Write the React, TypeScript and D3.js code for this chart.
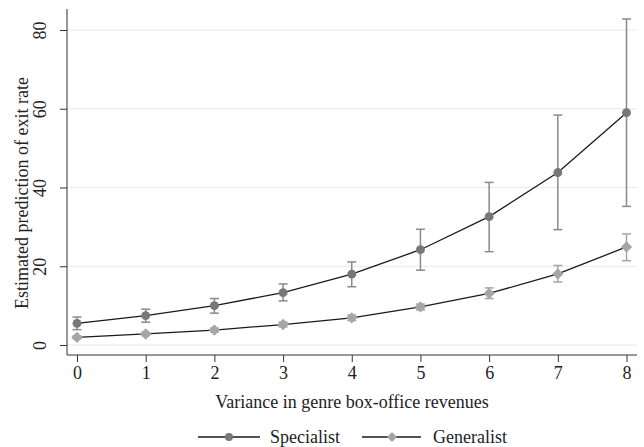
import React, { useRef, useEffect } from 'react';
import * as d3 from 'd3';

const xValues = [0, 1, 2, 3, 4, 5, 6, 7, 8];
const specialistMean = [5.5, 7.45, 10.0, 13.3, 18.0, 24.2, 32.6, 43.8, 59.0];
const specialistLow = [3.9, 5.8, 8.1, 11.2, 14.8, 19.0, 23.7, 29.3, 35.2];
const specialistHigh = [7.1, 9.1, 11.8, 15.5, 21.1, 29.4, 41.3, 58.4, 82.8];
const generalistMean = [1.96, 2.8, 3.8, 5.2, 6.9, 9.66, 13.1, 18.06, 24.9];
const generalistLow = [1.6, 2.4, 3.3, 4.6, 6.2, 8.9, 11.8, 16.0, 21.4];
const generalistHigh = [2.3, 3.2, 4.3, 5.8, 7.6, 10.4, 14.5, 20.2, 28.2];
const yTicks = [0, 20, 40, 60, 80];

const FONT = '"Liberation Serif", "Times New Roman", serif';

export default function App() {
  const svgRef = useRef<SVGSVGElement>(null);

  useEffect(() => {
    if (!svgRef.current) return;
    const svg = d3.select(svgRef.current);
    svg.selectAll('*').remove();

    const left = 67;
    const right = 637;
    const top = 9;
    const bottom = 355;

    const x = d3.scaleLinear().domain([0, 8]).range([77, 626.5]);
    const y = d3.scaleLinear().domain([0, 80]).range([345, 30]);

    // gridlines
    svg
      .append('g')
      .selectAll('line')
      .data(yTicks)
      .enter()
      .append('line')
      .attr('x1', left)
      .attr('x2', right)
      .attr('y1', (d) => y(d))
      .attr('y2', (d) => y(d))
      .attr('stroke', '#e8e8e8')
      .attr('stroke-width', 1);

    // axes
    const yAxis = svg
      .append('g')
      .attr('transform', `translate(${left},0)`)
      .call(d3.axisLeft(y).tickValues(yTicks).tickSize(7).tickPadding(0).tickFormat(d3.format('d')));
    yAxis.select('.domain').attr('d', `M0,${top}V${bottom}`).attr('stroke', '#333');
    yAxis.selectAll('.tick line').attr('stroke', '#333');
    yAxis
      .selectAll('.tick text')
      .attr('transform', 'rotate(-90)')
      .attr('x', 0)
      .attr('y', -27)
      .attr('dy', '0.35em')
      .attr('text-anchor', 'middle')
      .attr('fill', '#222')
      .style('font-family', FONT)
      .style('font-size', '18px');

    const xAxis = svg
      .append('g')
      .attr('transform', `translate(0,${bottom})`)
      .call(d3.axisBottom(x).tickValues(xValues).tickSize(7).tickPadding(4).tickFormat(d3.format('d')));
    xAxis.select('.domain').attr('d', `M${left},0H${right}`).attr('stroke', '#333');
    xAxis.selectAll('.tick line').attr('stroke', '#333');
    xAxis
      .selectAll('.tick text')
      .attr('fill', '#222')
      .style('font-family', FONT)
      .style('font-size', '18px');

    // titles
    svg
      .append('text')
      .attr('x', 352)
      .attr('y', 408)
      .attr('text-anchor', 'middle')
      .attr('fill', '#222')
      .style('font-family', FONT)
      .style('font-size', '18px')
      .text('Variance in genre box-office revenues');

    svg
      .append('text')
      .attr('transform', `translate(28,193) rotate(-90)`)
      .attr('text-anchor', 'middle')
      .attr('fill', '#222')
      .style('font-family', FONT)
      .style('font-size', '18px')
      .text('Estimated prediction of exit rate');

    const series = [
      { mean: generalistMean, low: generalistLow, high: generalistHigh, color: '#a6a6a6', err: '#a6a6a6', shape: 'diamond' },
      { mean: specialistMean, low: specialistLow, high: specialistHigh, color: '#777777', err: '#8a8a8a', shape: 'circle' },
    ];

    const line = d3
      .line<number>()
      .x((_, i) => x(xValues[i]))
      .y((d) => y(d));

    series.forEach((s) => {
      const g = svg.append('g');
      // error bars
      xValues.forEach((xv, i) => {
        const cx = x(xv);
        g.append('line')
          .attr('x1', cx).attr('x2', cx)
          .attr('y1', y(s.low[i])).attr('y2', y(s.high[i]))
          .attr('stroke', s.err).attr('stroke-width', 1.5);
        [s.low[i], s.high[i]].forEach((v) => {
          g.append('line')
            .attr('x1', cx - 4.5).attr('x2', cx + 4.5)
            .attr('y1', y(v)).attr('y2', y(v))
            .attr('stroke', s.err).attr('stroke-width', 1.5);
        });
      });
      g.append('path')
        .datum(s.mean)
        .attr('d', line)
        .attr('fill', 'none')
        .attr('stroke', '#1a1a1a')
        .attr('stroke-width', 1.3);
      const isCircle = s.shape === 'circle';
      const sym = d3
        .symbol()
        .type(isCircle ? d3.symbolCircle : d3.symbolSquare)
        .size(isCircle ? 62 : 64);
      g.selectAll('path.m')
        .data(s.mean)
        .enter()
        .append('path')
        .attr('class', 'm')
        .attr('d', sym)
        .attr('transform', (d, i) => `translate(${x(xValues[i])},${y(d)})${isCircle ? '' : ' rotate(45)'}`)
        .attr('fill', s.color);
    });

    // legend
    const legendY = 437;
    const items = [
      { label: 'Specialist', x1: 198, x2: 260, mx: 229, tx: 270, color: '#777777', shape: d3.symbolCircle, size: 50, rot: '' },
      { label: 'Generalist', x1: 362, x2: 421, mx: 392, tx: 433, color: '#a6a6a6', shape: d3.symbolSquare, size: 50, rot: ' rotate(45)' },
    ];
    const lg = svg.append('g');
    items.forEach((it) => {
      lg.append('line')
        .attr('x1', it.x1).attr('x2', it.x2)
        .attr('y1', legendY).attr('y2', legendY)
        .attr('stroke', '#1a1a1a').attr('stroke-width', 1.3);
      lg.append('path')
        .attr('d', d3.symbol().type(it.shape).size(it.size))
        .attr('transform', `translate(${it.mx},${legendY})${it.rot}`)
        .attr('fill', it.color);
      lg.append('text')
        .attr('x', it.tx)
        .attr('y', legendY)
        .attr('dy', '0.35em')
        .attr('fill', '#222')
        .style('font-family', FONT)
        .style('font-size', '18px')
        .text(it.label);
    });
  }, []);

  return (
    <svg
      ref={svgRef}
      width={644}
      height={447}
      style={{ position: 'absolute', left: 0, top: 0, background: '#fff' }}
    />
  );
}
